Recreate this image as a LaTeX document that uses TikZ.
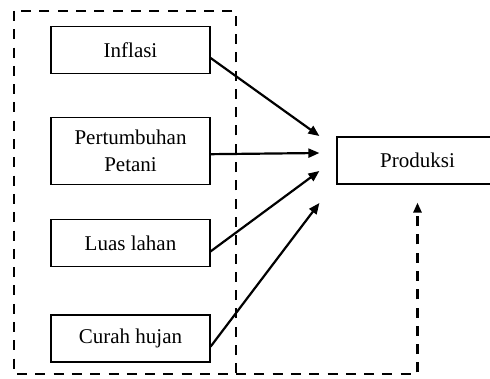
\documentclass[tikz,border=0pt]{standalone}
\usepackage{fontspec}
\setmainfont{Liberation Serif}
\usepackage{tikz}
\usetikzlibrary{positioning,calc}
\usetikzlibrary{arrows.meta}

\begin{document}
\begin{tikzpicture}[
  x = 1pt,
  y = 1pt,
  factor/.style = {
    draw,
    rectangle,
    line width = 1.2pt,
    align = center,
    minimum width = 159pt,
    minimum height = 47pt,
    font = \fontsize{21}{27}\selectfont,
  },
  result/.style = {
    factor,
    minimum width = 161pt,
  },
  group/.style = {
    draw,
    line width = 2.6pt,
    dash pattern = on 10pt off 8.3pt,
  },
  link/.style = {
    draw,
    line width = 2.2pt,
    -{Triangle[length=11pt,width=9pt]},
  },
  >={Triangle[length=10pt,width=8pt]},
]

  \useasboundingbox (0,0) rectangle (490,379);

  \node[factor] (infl) at (130.5,329) {Inflasi};
  \node[factor,minimum height=67pt] (tani) [below=43pt of infl] {Pertumbuhan\\Petani};
  \node[factor] (luas) [below=34pt of tani] {Luas lahan};
  \node[factor] (hujan) [below=47pt of luas] {Curah hujan};

  \node[result] (prod) at (417.5,218.5) {Produksi};

  % ends of the arrows, left of Produksi
  \coordinate (e1) at ($(prod.west)+(-17,24.5)$);
  \coordinate (e2) at ($(prod.west)+(-17,7.5)$);
  \coordinate (e3) at ($(prod.west)+(-17,-10.5)$);
  \coordinate (e4) at ($(prod.west)+(-17,-42.5)$);

  \path[link] ([yshift=-8pt]infl.east) -- (e1);
  \path[link] ([yshift=-3pt]tani.east) -- (e2);
  \path[link] ([yshift=-8pt]luas.east) -- (e3);
  \path[link] ([yshift=-8pt]hujan.east) -- (e4);

  % dashed group round the factors
  \coordinate (gnw) at (14,368);
  \coordinate (gse) at (236,5);
  \path[group] (gnw) rectangle (gse);
  \path[group,->] (gse) -| ([yshift=-18pt]prod.south);

\end{tikzpicture}
\end{document}
